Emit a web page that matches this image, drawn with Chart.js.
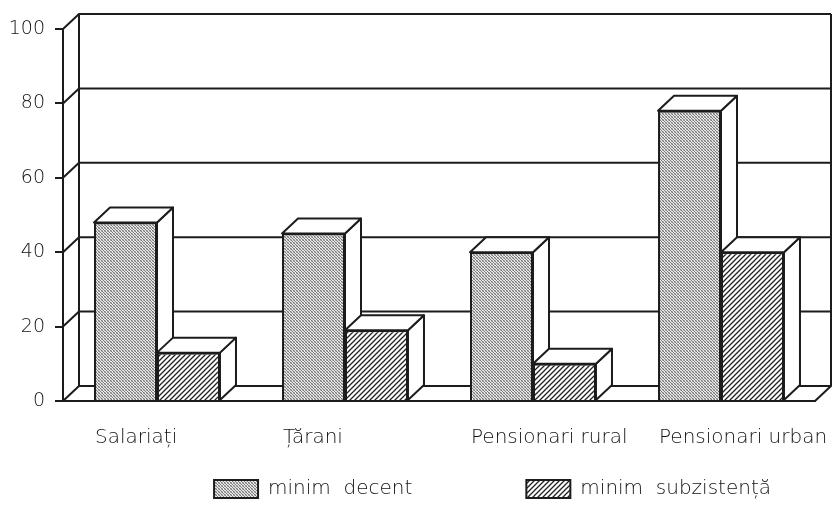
<!DOCTYPE html>
<html>
<head>
<meta charset="utf-8">
<script src="https://cdn.jsdelivr.net/npm/chart.js@4.4.1/dist/chart.umd.min.js"></script>
<style>
  html, body { margin: 0; background: #fff; }
  #cadru { width: 838px; height: 505px; }
</style>
</head>
<body>
<div id="cadru"><canvas id="grafic"></canvas></div>
<script>
// date (procente)
const categorii = ["Salariați", "Țărani", "Pensionari rural", "Pensionari urban"];
const minimDecent = [48, 45, 40, 78];
const minimSubzistenta = [13, 19, 10, 40];
const valoriAxaY = [0, 20, 40, 60, 80, 100];
const numeSerii = ["minim  decent", "minim  subzistență"];

const ADANC_X = 16, ADANC_Y = 15; // adancimea efectului 3D
const LINIE = "#1c1c1c";
const TEXT = "#111";
const FONT = "'DejaVu Sans', sans-serif";

// textura punctata (gri)
function modelPuncte() {
  const c = document.createElement("canvas");
  c.width = 3; c.height = 3;
  const g = c.getContext("2d");
  g.fillStyle = "#e8e8e8"; g.fillRect(0, 0, 3, 3);
  g.fillStyle = "#7a7a7a";
  g.fillRect(0, 0, 1, 1); g.fillRect(1, 1, 1, 1); g.fillRect(2, 2, 1, 1);
  g.fillStyle = "#b4b4b4";
  g.fillRect(2, 0, 1, 1); g.fillRect(0, 2, 1, 1);
  return g.createPattern(c, "repeat");
}

// hasura diagonala
function modelHasura() {
  const c = document.createElement("canvas");
  c.width = 5; c.height = 5;
  const g = c.getContext("2d");
  g.fillStyle = "#fff"; g.fillRect(0, 0, 5, 5);
  g.strokeStyle = "#222"; g.lineWidth = 1.3;
  g.beginPath();
  g.moveTo(-1, 6); g.lineTo(6, -1);
  g.moveTo(-1, 1); g.lineTo(1, -1);
  g.moveTo(4, 6); g.lineTo(6, 4);
  g.stroke();
  return g.createPattern(c, "repeat");
}

function poligon(ctx, pts) {
  ctx.beginPath();
  ctx.moveTo(pts[0][0], pts[0][1]);
  for (let k = 1; k < pts.length; k++) ctx.lineTo(pts[k][0], pts[k][1]);
  ctx.closePath();
  ctx.fill();
  ctx.stroke();
}

// pereti, podea si fetele laterale ale barelor
const efect3d = {
  id: "efect3d",
  beforeDatasetsDraw(chart) {
    const { ctx, chartArea: a, scales: { y } } = chart;
    ctx.save();
    ctx.strokeStyle = LINIE;
    ctx.lineWidth = 2;
    ctx.lineJoin = "round";

    valoriAxaY.forEach(v => {
      const py = y.getPixelForValue(v);
      ctx.beginPath();
      ctx.moveTo(a.left, py);
      ctx.lineTo(a.left + ADANC_X, py - ADANC_Y);
      ctx.lineTo(a.right + ADANC_X, py - ADANC_Y);
      ctx.stroke();
    });
    const sus = y.getPixelForValue(100), jos = y.getPixelForValue(0);
    ctx.beginPath();
    ctx.moveTo(a.left + ADANC_X, sus - ADANC_Y);
    ctx.lineTo(a.left + ADANC_X, jos - ADANC_Y);
    ctx.moveTo(a.right + ADANC_X, sus - ADANC_Y);
    ctx.lineTo(a.right + ADANC_X, jos - ADANC_Y);
    ctx.lineTo(a.right, jos);
    ctx.stroke();

    ctx.fillStyle = "#fff";
    for (let i = 0; i < categorii.length; i++) {
      chart.data.datasets.forEach((ds, d) => {
        const bar = chart.getDatasetMeta(d).data[i];
        const st = bar.x - bar.width / 2, dr = bar.x + bar.width / 2;
        const vf = bar.y, baza = bar.base;
        poligon(ctx, [[dr, vf], [dr + ADANC_X, vf - ADANC_Y], [dr + ADANC_X, baza - ADANC_Y], [dr, baza]]);
        poligon(ctx, [[st, vf], [st + ADANC_X, vf - ADANC_Y], [dr + ADANC_X, vf - ADANC_Y], [dr, vf]]);
      });
    }
    ctx.restore();
  }
};

const spatiiLegenda = ["\u2003\u2003\u2003\u2003\u2003\u2002", "\u2003\u2003"];

new Chart("grafic", {
  type: "bar",
  data: {
    labels: categorii,
    datasets: [
      {
        label: numeSerii[0],
        data: minimDecent,
        backgroundColor: modelPuncte(),
        borderColor: LINIE,
        borderWidth: 2
      },
      {
        label: numeSerii[1],
        data: minimSubzistenta,
        backgroundColor: modelHasura(),
        borderColor: LINIE,
        borderWidth: 2
      }
    ]
  },
  options: {
    responsive: true,
    maintainAspectRatio: false,
    animation: false,
    layout: { padding: { top: 29, right: 23, left: 0, bottom: -4 } },
    datasets: { bar: { categoryPercentage: 0.67, barPercentage: 1 } },
    scales: {
      x: {
        grid: { display: false, drawTicks: false },
        border: { display: true, color: LINIE, width: 2 },
        ticks: {
          color: TEXT,
          font: { family: FONT, size: 20, weight: "200" },
          align: "start",
          labelOffset: -62,
          padding: 25,
          autoSkip: false,
          maxRotation: 0
        },
        afterFit(s) { s.paddingLeft = 0; s.paddingRight = 0; s.height = 74; }
      },
      y: {
        min: 0,
        max: 100,
        ticks: {
          stepSize: 20,
          color: TEXT,
          font: { family: FONT, size: 19, weight: "200" },
          padding: 10
        },
        grid: { drawOnChartArea: false, tickLength: 8, color: LINIE, lineWidth: 2 },
        border: { color: LINIE, width: 2 },
        afterFit(s) { s.width = 63; }
      }
    },
    plugins: {
      legend: {
        position: "bottom",
        align: "end",
        labels: {
          boxWidth: 44,
          boxHeight: 18,
          padding: 4,
          color: TEXT,
          font: { family: FONT, size: 20, weight: "200" },
          generateLabels(chart) {
            return Chart.defaults.plugins.legend.labels.generateLabels(chart).map((it, k) => {
              it.text = it.text + spatiiLegenda[k];
              return it;
            });
          }
        }
      },
      tooltip: { enabled: false }
    }
  },
  plugins: [efect3d]
});
</script>
</body>
</html>
